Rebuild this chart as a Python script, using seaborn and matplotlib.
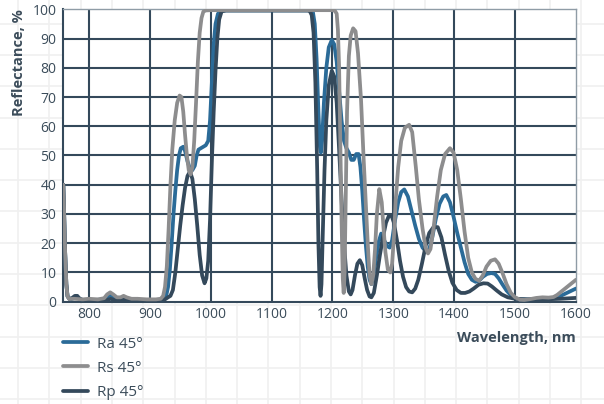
import numpy as np
import pandas as pd
import matplotlib
matplotlib.use("Agg")
import matplotlib.pyplot as plt
import seaborn as sns

# ---- spectral data (wavelength in nm, reflectance in %) ----
wl_rs = [758, 759, 761, 763, 765, 768, 775, 790, 800, 815, 825, 830, 835, 840, 846, 852, 857,
         862, 870, 880, 895, 910, 918, 922, 925, 928, 931, 934, 937, 941, 945, 949, 952, 955,
         958, 961, 964, 967, 970, 973, 976, 979, 982, 985, 988, 992, 1000, 1100, 1200, 1204,
         1207, 1209, 1211, 1213, 1215, 1217, 1218.5, 1220, 1222, 1224, 1227, 1230, 1234, 1238,
         1242, 1247, 1251, 1255, 1258, 1261, 1264, 1267, 1270, 1273, 1277, 1281, 1284, 1287,
         1291, 1295, 1298, 1301, 1304, 1308, 1313, 1319, 1326, 1331, 1337, 1342, 1348, 1353,
         1357, 1361, 1366, 1372, 1378, 1385, 1393, 1399, 1405, 1411, 1417, 1423, 1429, 1435,
         1441, 1447, 1453, 1460, 1467, 1473, 1479, 1486, 1493, 1500, 1508, 1515, 1525, 1535,
         1545, 1555, 1563, 1569, 1575, 1582, 1590, 1600]
rs = [40, 33, 17, 6, 1.8, 0.9, 1.0, 0.8, 1.0, 0.8, 1.2, 2.5, 3.2, 2.5, 1.5, 1.5, 2.0,
      1.5, 1.0, 1.0, 0.8, 0.8, 1.0, 2, 5, 12, 25, 40, 52, 62, 68, 70.5, 70, 65,
      57, 50, 45, 43.5, 46, 55, 68, 82, 92, 97, 99.2, 99.6, 99.7, 99.7, 99.7, 99.5,
      98.5, 93, 80, 55, 28, 8, 3, 10, 38, 65, 84, 91, 93.5, 92.5,
      85, 69, 50, 33, 20, 9, 6, 9, 18, 30, 38.5, 34, 25, 17,
      11, 10, 13, 22, 35, 46, 55, 59.5, 60.5, 58, 46, 35, 25, 18.5,
      16.5, 18, 25, 36, 45, 50.5, 52.5, 51, 45, 35, 24, 15, 10, 7.8,
      7.2, 9, 12, 14, 14.5, 13, 10, 6, 3, 1.5, 0.7, 0.6, 0.9, 1.3,
      1.5, 1.4, 1.6, 2.3, 3.3, 4.5, 5.8, 7.5]

wl_rp = [758, 759, 761, 763, 765, 768, 772, 777, 781, 785, 790, 800, 810, 820, 830, 836,
         842, 850, 860, 870, 890, 910, 925, 930, 934, 938, 942, 946, 950, 954, 958, 962,
         966, 970, 974, 978, 982, 986, 990, 993, 996, 999, 1002, 1005, 1008, 1011, 1014,
         1018, 1025, 1100, 1160, 1163, 1166, 1169, 1172, 1175, 1177, 1179, 1180.5, 1182,
         1184, 1187, 1190, 1194, 1199, 1203, 1207, 1211, 1215, 1219, 1223, 1227, 1230, 1233,
         1237, 1241, 1245, 1249, 1253, 1257, 1261, 1264, 1268, 1273, 1278, 1283, 1288, 1293,
         1297, 1301, 1306, 1311, 1316, 1321, 1326, 1331, 1336, 1341, 1347, 1353, 1359, 1366,
         1373, 1379, 1385, 1391, 1397, 1404, 1411, 1418, 1425, 1432, 1440, 1448, 1455, 1462,
         1470, 1478, 1488, 1500, 1520, 1550, 1575, 1600]
rp = [40, 33, 17, 6, 1.8, 0.9, 1.2, 2.0, 2.0, 1.0, 0.5, 0.4, 0.5, 0.3, 0.6, 1.0,
      0.5, 0.3, 0.8, 0.4, 0.3, 0.4, 0.8, 1.5, 2.0, 4, 10, 18, 26, 33, 39, 43,
      44.5, 42, 35, 26, 16, 9, 6.3, 8, 14, 28, 48, 65, 79, 90, 96.5,
      99.3, 99.6, 99.6, 99.6, 99.3, 98, 92, 75, 45, 20, 5, 2, 6,
      22, 45, 62, 74, 79, 77, 68, 52, 35, 20, 9, 3.5, 2.5, 4,
      9, 13, 14.2, 12.5, 8, 4, 1.8, 1.5, 3, 9, 16, 22, 27, 29.5,
      29.5, 27, 21, 14, 8.5, 5, 3.5, 3.2, 4.5, 7.5, 13, 19, 23.5, 25.5,
      25.5, 22, 16, 10.5, 6.5, 4, 3, 3, 3.5, 4.5, 5.8, 6.3, 6.2, 5.2,
      3.8, 2.5, 1.5, 1.0, 0.8, 0.8, 1.0, 1.3]

wl_ra = [758, 759, 761, 763, 765, 770, 780, 790, 810, 825, 832, 836, 841, 848, 858, 870,
         890, 910, 922, 927, 930, 933, 936, 939, 942, 945, 948, 951, 955, 958, 962, 966,
         970, 974, 977, 980, 984, 988, 992, 996, 999, 1002, 1005, 1008, 1012, 1017, 1025,
         1100, 1165, 1168, 1171, 1174, 1177, 1179.5, 1181, 1183, 1186, 1190, 1194, 1199,
         1203, 1207, 1211, 1215, 1219, 1223, 1227, 1231, 1235, 1239, 1243, 1246, 1249, 1252,
         1255, 1258, 1261, 1264, 1267, 1271, 1276, 1280, 1285, 1290, 1294, 1298, 1303, 1308,
         1313, 1318, 1324, 1330, 1336, 1342, 1348, 1354, 1359, 1364, 1370, 1376, 1382, 1387,
         1393, 1399, 1405, 1411, 1417, 1423, 1429, 1435, 1441, 1447, 1454, 1461, 1467, 1473,
         1479, 1486, 1493, 1500, 1508, 1520, 1540, 1560, 1575, 1585, 1593, 1600]
ra = [40, 33, 17, 6, 1.8, 0.8, 1.5, 0.6, 0.6, 0.8, 1.8, 2.3, 1.5, 0.8, 1.2, 0.6,
      0.5, 0.6, 0.8, 2, 5, 11, 20, 30, 38, 45, 50, 52.5, 53, 51.5, 48, 45.5,
      45, 46.5, 50, 52, 52.5, 53, 53.5, 55, 62, 75, 88, 95, 98.5, 99.4, 99.6,
      99.6, 99.6, 99, 95, 83, 65, 53, 51, 55, 68, 80, 87, 89.5,
      88, 82, 72, 62, 55, 52.5, 51, 48.5, 48.5, 50.5, 50.5, 46, 38, 28,
      19, 12, 7.5, 6, 8, 14, 20.5, 23.3, 21, 19, 18.5, 21, 28, 34,
      37.5, 38.4, 36, 31, 26, 21.5, 18.5, 17.2, 18, 22, 28.5, 33.5, 36, 36.5,
      34, 29, 23.5, 18.5, 13.5, 9.5, 7.5, 6.8, 7.2, 8.5, 9.5, 9.8, 9.5, 8,
      6, 3.8, 2.2, 1.2, 0.8, 0.8, 1.0, 1.2, 2, 3, 3.8, 4.5]

labels = ["Ra 45°", "Rs 45°", "Rp 45°"]
colors = {"Ra 45°": "#2b6b98", "Rs 45°": "#8d8d8e", "Rp 45°": "#34495b"}
x_ticks = [800, 900, 1000, 1100, 1200, 1300, 1400, 1500, 1600]
y_ticks = list(range(0, 101, 10))

df = pd.concat([
    pd.DataFrame({"wl": wl_ra, "R": ra, "series": "Ra 45°"}),
    pd.DataFrame({"wl": wl_rs, "R": rs, "series": "Rs 45°"}),
    pd.DataFrame({"wl": wl_rp, "R": rp, "series": "Rp 45°"}),
], ignore_index=True)

sns.set_theme(style="white")
plt.rcParams["font.family"] = ["Open Sans", "DejaVu Sans"]

ink = "#34495b"
text_col = "#3b4c5a"

fig = plt.figure(figsize=(6.04, 4.04), dpi=100)
fig.patch.set_facecolor("white")

# faint graph-paper texture behind everything
bg = fig.add_axes([0, 0, 1, 1], zorder=-10)
bg.set_xlim(0, 604)
bg.set_ylim(404, 0)
bg.axis("off")
for gx in np.arange(18, 604, 31.3):
    bg.axvline(gx, color="#f0f0f0", lw=1.2)
for gy in np.arange(368 - 31.3 * 12, 404, 31.3):
    bg.axhline(gy, color="#f0f0f0", lw=1.2)

ax = fig.add_axes([0.1048, 0.2532, 0.8488, 0.7238])
ax.set_facecolor("white")

# draw order: Ra, Rp, then Rs on top
for name in ["Ra 45°", "Rp 45°", "Rs 45°"]:
    sns.lineplot(data=df[df["series"] == name], x="wl", y="R", ax=ax,
                 color=colors[name], lw=2.7, estimator=None, sort=False,
                 label=name, legend=False, zorder=3)

ax.set_xlim(758, 1600)
ax.set_ylim(0, 100)
ax.set_xticks(x_ticks)
ax.set_yticks(y_ticks)

# grid lines
for gx in x_ticks[:-1]:
    ax.axvline(gx, color=ink, lw=1.5, zorder=1)
for gy in y_ticks[1:-1]:
    ax.axhline(gy, color=ink, lw=1.5, zorder=1)

for side in ["left", "bottom"]:
    ax.spines[side].set_color(ink)
    ax.spines[side].set_linewidth(1.5)
for side in ["top", "right"]:
    ax.spines[side].set_color("#8f9ca6")
    ax.spines[side].set_linewidth(1.0)

ax.tick_params(axis="both", length=0, labelsize=10, colors=text_col)
ax.tick_params(axis="x", pad=4)
ax.tick_params(axis="y", pad=5)

ax.set_xlabel("Wavelength, nm", fontsize=10.5, fontweight="bold", color=text_col,
              loc="right", va="center")
ax.xaxis.set_label_coords(1.0, -0.124)
ax.set_ylabel("Reflectance, %", fontsize=10.5, fontweight="bold", color=text_col,
              loc="top")
ax.yaxis.set_label_coords(-0.072, 1.0)

handles = {ln.get_label(): ln for ln in ax.get_lines() if ln.get_label() in labels}
leg = fig.legend([handles[l] for l in labels], labels,
                 loc="upper left", bbox_to_anchor=(0.095, 0.182),
                 frameon=False, fontsize=11, handlelength=1.6, handletextpad=0.6,
                 labelspacing=0.6, borderaxespad=0)
for t in leg.get_texts():
    t.set_color(text_col)

fig.savefig("out.png", dpi=100, facecolor="white")
